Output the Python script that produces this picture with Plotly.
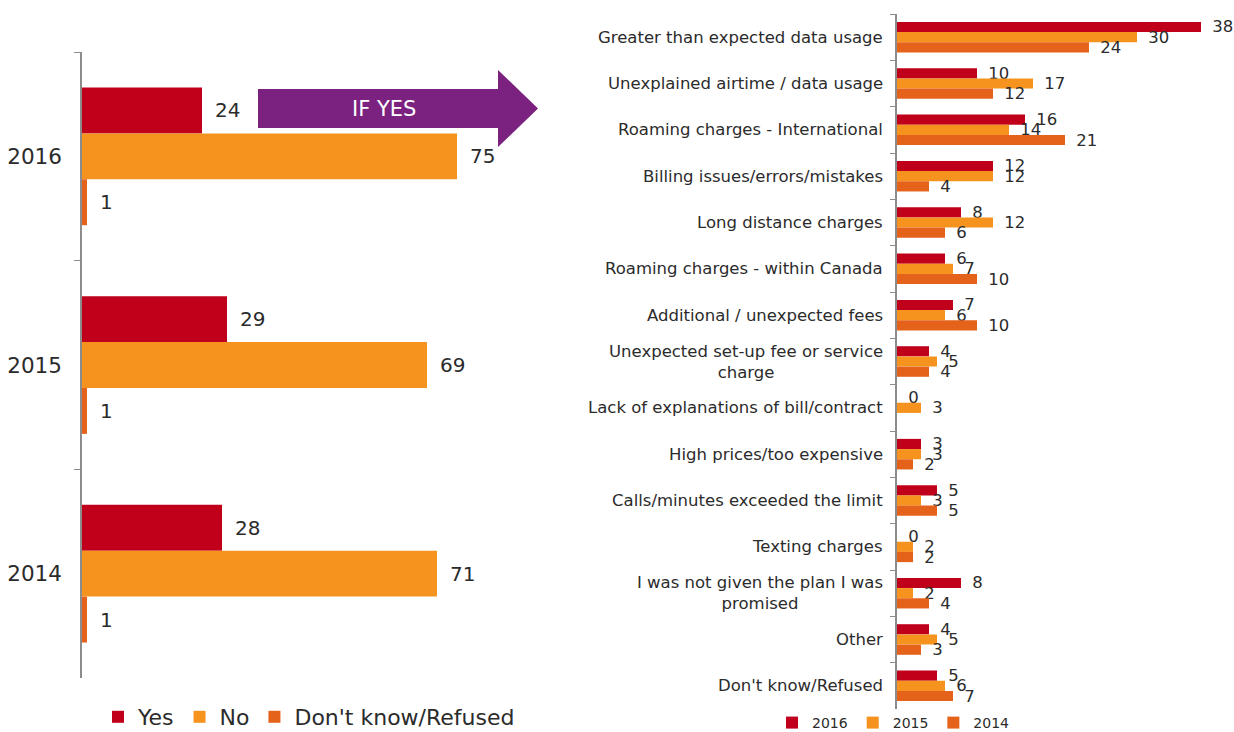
import plotly.graph_objects as go

W, H = 1234, 732

# ---------------- data ----------------
years = ["2016", "2015", "2014"]
yes_vals = [24, 29, 28]
no_vals = [75, 69, 71]
dk_vals = [1, 1, 1]

reasons = [
    "Greater than expected data usage",
    "Unexplained airtime / data usage",
    "Roaming charges - International",
    "Billing issues/errors/mistakes",
    "Long distance charges",
    "Roaming charges - within Canada",
    "Additional / unexpected fees",
    "Unexpected set-up fee or service<br>charge",
    "Lack of explanations of bill/contract",
    "High prices/too expensive",
    "Calls/minutes exceeded the limit",
    "Texting charges",
    "I was not given the plan I was<br>promised",
    "Other",
    "Don't know/Refused",
]
v2016 = [38, 10, 16, 12, 8, 6, 7, 4, 0, 3, 5, 0, 8, 4, 5]
v2015 = [30, 17, 14, 12, 12, 7, 6, 5, 3, 3, 3, 2, 2, 5, 6]
v2014 = [24, 12, 21, 4, 6, 10, 10, 4, None, 2, 5, 2, 4, 3, 7]

left_names = ["Yes", "No", "Don't know/Refused"]
right_names = ["2016", "2015", "2014"]

# ---------------- style ----------------
RED = "#C0001A"
ORANGE = "#F6931E"
DKORANGE = "#E5621B"
PURPLE = "#7B2180"
TXT = "#2b2b2b"
AXIS = "#8C8C8C"
FONT = "DejaVu Sans"
SP = "\u2002"


def px(x):
    return x / W


def py(y):
    return 1 - y / H


def lab(vals):
    return ["" if v is None else SP + str(v) for v in vals]


fig = go.Figure()

for name, vals, col in zip(left_names, [yes_vals, no_vals, dk_vals], [RED, ORANGE, DKORANGE]):
    fig.add_trace(go.Bar(
        x=vals, y=years, orientation="h", name=name,
        marker=dict(color=col, line=dict(width=0)),
        text=lab(vals), textposition="outside", cliponaxis=False,
        constraintext="none",
        textfont=dict(size=20, color=TXT, family=FONT),
        xaxis="x", yaxis="y", legend="legend",
    ))

for name, vals, col in zip(right_names, [v2016, v2015, v2014], [RED, ORANGE, DKORANGE]):
    fig.add_trace(go.Bar(
        x=vals, y=reasons, orientation="h", name=name,
        marker=dict(color=col, line=dict(width=0)),
        text=lab(vals), textposition="outside", cliponaxis=False,
        constraintext="none",
        textfont=dict(size=16.5, color=TXT, family=FONT),
        xaxis="x2", yaxis="y2", legend="legend2",
    ))

annotations = []
for r in reasons:
    annotations.append(dict(
        xref="paper", yref="y2", x=px(885), y=r, text=r,
        xanchor="right", yanchor="middle", align="center", showarrow=False,
        font=dict(size=16.5, color=TXT, family=FONT),
    ))
annotations.append(dict(
    xref="paper", yref="paper", x=px(384), y=py(109), text="IF YES",
    xanchor="center", yanchor="middle", showarrow=False,
    font=dict(size=21, color="white", family=FONT),
))

arrow_pts = [(258, 89), (498, 89), (498, 70), (538, 108.5), (498, 147),
             (498, 128), (258, 128)]
arrow_path = "M " + " L ".join(f"{px(x):.5f},{py(y):.5f}" for x, y in arrow_pts) + " Z"

fig.update_layout(
    width=W, height=H,
    margin=dict(l=0, r=0, t=0, b=0, autoexpand=False),
    paper_bgcolor="white", plot_bgcolor="white",
    font=dict(family=FONT, color=TXT),
    barmode="group", bargap=0.34, bargroupgap=0,
    xaxis=dict(domain=[px(82), px(532)], range=[0, 90], visible=False,
               anchor="y", fixedrange=True),
    yaxis=dict(domain=[py(678), py(52)], type="category",
               categoryorder="array", categoryarray=years,
               autorange="reversed", anchor="x",
               showline=True, linecolor=AXIS, linewidth=1.5,
               ticks="outside", tickson="boundaries", ticklen=6,
               tickcolor=AXIS, tickwidth=1,
               tickfont=dict(size=21.5, color=TXT, family=FONT),
               ticklabelstandoff=14, showgrid=False, zeroline=False),
    xaxis2=dict(domain=[px(897), px(1233)], range=[0, 42], visible=False,
                anchor="y2", fixedrange=True),
    yaxis2=dict(domain=[py(709), py(14)], type="category",
                categoryorder="array", categoryarray=reasons,
                autorange="reversed", anchor="x2",
                showline=True, linecolor=AXIS, linewidth=1.5,
                ticks="outside", tickson="boundaries", ticklen=5,
                tickcolor=AXIS, tickwidth=1, showticklabels=False,
                showgrid=False, zeroline=False),
    legend=dict(orientation="h", x=px(98), xanchor="left", y=py(717),
                yanchor="middle", font=dict(size=22, color=TXT, family=FONT),
                bgcolor="rgba(0,0,0,0)", traceorder="normal"),
    legend2=dict(orientation="h", x=px(772), xanchor="left", y=py(723),
                 yanchor="middle", font=dict(size=14, color=TXT, family=FONT),
                 bgcolor="rgba(0,0,0,0)", traceorder="normal"),
    shapes=[dict(type="path", path=arrow_path, xref="paper", yref="paper",
                 fillcolor=PURPLE, line=dict(width=0), layer="above")],
    annotations=annotations,
)

fig.write_html("out.html")
